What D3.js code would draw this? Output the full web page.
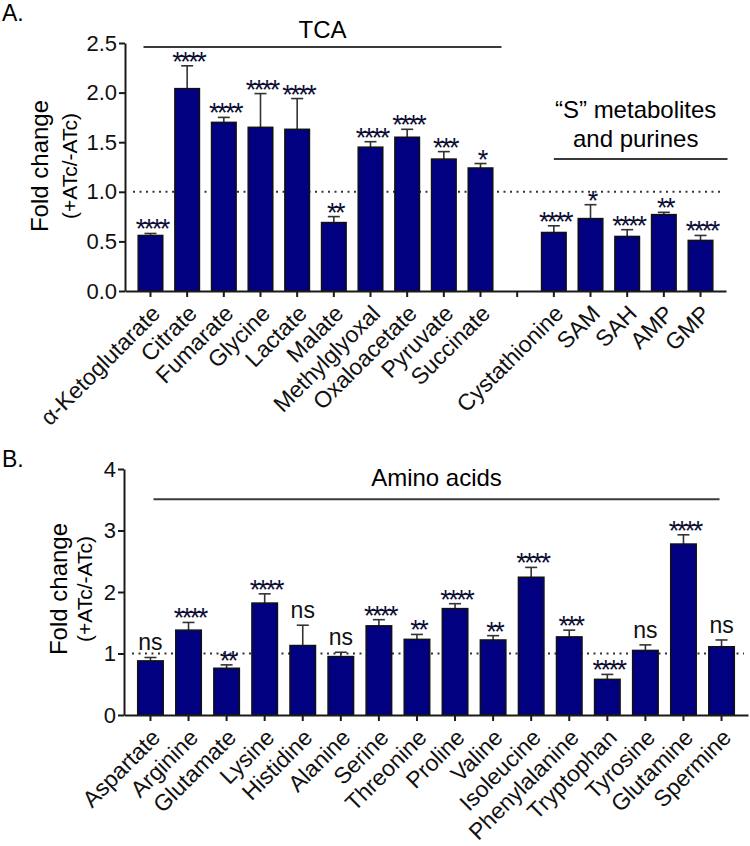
<!DOCTYPE html>
<html>
<head>
<meta charset="utf-8">
<script src="https://cdn.jsdelivr.net/npm/d3@7"></script>
<style>
  body { margin: 0; background: #fff; }
  svg { font-family: "Liberation Sans", Arial, sans-serif; }
  .axis path, .axis line { stroke: #1a1a1a; stroke-width: 2px; }
  .axis text { font-size: 22px; fill: #111; font-family: "Liberation Sans", Arial, sans-serif; }
  .axis.xax text { font-size: 23px; }
  .bar { fill: #000080; stroke: #111; stroke-width: 1.5px; }
  .err { stroke: #333; stroke-width: 1.6px; }
  .stars { font-size: 27px; letter-spacing: -2.5px; fill: #0d0d33; }
  .ns { font-size: 23px; fill: #111; }
</style>
</head>
<body>
<svg id="chart" width="750" height="846"></svg>
<script>
// panel A: TCA + "S" metabolites and purines ("" = empty slot on the axis)
var catsA = ["α-Ketoglutarate", "Citrate", "Fumarate", "Glycine", "Lactate", "Malate",
             "Methylglyoxal", "Oxaloacetate", "Pyruvate", "Succinate", "",
             "Cystathionine", "SAM", "SAH", "AMP", "GMP"];
var foldA = [0.56, 2.04, 1.70, 1.65, 1.63, 0.69, 1.45, 1.55, 1.33, 1.24, null, 0.59, 0.73, 0.55, 0.77, 0.51];
var errA  = [0.02, 0.23, 0.05, 0.34, 0.31, 0.06, 0.055, 0.08, 0.075, 0.045, null, 0.067, 0.14, 0.068, 0.023, 0.05];
var sigA  = ["****", "****", "****", "****", "****", "**", "****", "****", "***", "*", "",
             "****", "*", "****", "**", "****"];
var ticksA = [0, 0.5, 1, 1.5, 2, 2.5];

// panel B: amino acids
var catsB = ["Aspartate", "Arginine", "Glutamate", "Lysine", "Histidine", "Alanine", "Serine",
             "Threonine", "Proline", "Valine", "Isoleucine", "Phenylalanine", "Tryptophan",
             "Tyrosine", "Glutamine", "Spermine"];
var foldB = [0.88, 1.38, 0.76, 1.82, 1.13, 0.95, 1.45, 1.23, 1.73, 1.22, 2.24, 1.27, 0.58, 1.05, 2.78, 1.11];
var errB  = [0.055, 0.125, 0.055, 0.15, 0.33, 0.07, 0.1, 0.08, 0.08, 0.07, 0.16, 0.11, 0.08, 0.09, 0.15, 0.11];
var sigB  = ["ns", "****", "**", "****", "ns", "ns", "****", "**", "****", "**", "****", "***",
             "****", "ns", "****", "ns"];
var ticksB = [0, 1, 2, 3, 4];

var svg = d3.select("#chart");

function renderPanel(p) {
  var x = d3.scaleBand().domain(p.cats).range(p.xRange).paddingInner(0.33).paddingOuter(0.36);
  var y = d3.scaleLinear().domain([0, p.ticks[p.ticks.length - 1]]).range(p.yRange);
  var rows = p.cats.map(function(c, i) {
    return {cat: c, v: p.fold[i], e: p.err[i], sig: p.sig[i]};
  }).filter(function(d) { return d.v != null; });
  var g = svg.append("g");

  // panel letter
  g.append("text").attr("x", 2).attr("y", p.letterY)
    .style("font-size", "23px").text(p.letter);

  // y label
  var yl = g.append("text")
    .attr("transform", "translate(" + p.ylabX + "," + p.ylabY + ") rotate(-90)")
    .attr("text-anchor", "middle");
  yl.append("tspan").attr("x", 0).attr("y", 0).style("font-size", "24px").text("Fold change");
  yl.append("tspan").attr("x", 0).attr("y", p.ylabGap).style("font-size", "21px").text("(+ATc/-ATc)");

  // dotted reference at 1
  g.append("line")
    .attr("x1", p.xRange[0] + 8).attr("x2", p.xRange[1] - 4)
    .attr("y1", y(1)).attr("y2", y(1))
    .attr("stroke", "#333").attr("stroke-width", 2)
    .attr("stroke-dasharray", "2,4.5");

  // error bars (upper only)
  var eb = g.selectAll(".errg").data(rows).enter().append("g");
  eb.append("line").attr("class", "err")
    .attr("x1", function(d) { return x(d.cat) + x.bandwidth() / 2; })
    .attr("x2", function(d) { return x(d.cat) + x.bandwidth() / 2; })
    .attr("y1", function(d) { return y(d.v); })
    .attr("y2", function(d) { return y(d.v + d.e); });
  eb.append("line").attr("class", "err")
    .attr("x1", function(d) { return x(d.cat) + x.bandwidth() / 2 - 6; })
    .attr("x2", function(d) { return x(d.cat) + x.bandwidth() / 2 + 6; })
    .attr("y1", function(d) { return y(d.v + d.e); })
    .attr("y2", function(d) { return y(d.v + d.e); });

  g.selectAll(".bar").data(rows).enter().append("rect")
    .attr("class", "bar")
    .attr("x", function(d) { return x(d.cat); })
    .attr("width", x.bandwidth())
    .attr("y", function(d) { return y(d.v); })
    .attr("height", function(d) { return y(0) - y(d.v); });

  // significance marks
  g.selectAll(".sig").data(rows).enter().append("text")
    .attr("class", function(d) { return d.sig == "ns" ? "ns" : "stars"; })
    .attr("text-anchor", "middle")
    .attr("x", function(d) { return x(d.cat) + x.bandwidth() / 2 + (d.sig == "ns" ? 0 : 1.2); })
    .attr("y", function(d) { return y(d.v + d.e) + (d.sig == "ns" ? -7 : 5); })
    .text(function(d) { return d.sig; });

  // axes
  g.append("g").attr("class", "axis")
    .attr("transform", "translate(" + p.xRange[0] + ",0)")
    .call(d3.axisLeft(y).tickValues(p.ticks).tickFormat(p.fmt).tickSize(6).tickSizeOuter(0).tickPadding(2));

  var xa = g.append("g").attr("class", "axis xax")
    .attr("transform", "translate(0," + y(0) + ")")
    .call(d3.axisBottom(x).tickSize(6).tickSizeOuter(0));
  xa.selectAll("text")
    .attr("text-anchor", "end")
    .attr("dy", "0.35em")
    .attr("transform", "translate(-1,12) rotate(-45)");

  // group brackets
  p.brackets.forEach(function(b) {
    var x1 = x(b.from) + x.bandwidth() / 2 + b.padL,
        x2 = x(b.to) + x.bandwidth() / 2 + b.padR;
    g.append("line").attr("x1", x1).attr("x2", x2)
      .attr("y1", y(b.at)).attr("y2", y(b.at))
      .attr("stroke", "#3a3a3a").attr("stroke-width", 2);
    b.lines.forEach(function(t, i) {
      g.append("text").attr("x", (x1 + x2) / 2 + (b.dx || 0))
        .attr("y", y(b.textAt) + i * 29)
        .attr("text-anchor", "middle")
        .style("font-size", "24px")
        .text(t);
    });
  });
}

renderPanel({
  cats: catsA, fold: foldA, err: errA, sig: sigA, ticks: ticksA,
  fmt: d3.format(".1f"),
  xRange: [125, 726], yRange: [291, 43],
  letter: "A.", letterY: 21,
  ylabX: 48, ylabY: 166, ylabGap: 29,
  brackets: [
    {lines: ["TCA"], from: "α-Ketoglutarate", to: "Succinate", padL: -7, padR: 21, at: 2.46, textAt: 2.55},
    {lines: ["\u201CS\u201D metabolites", "and purines"], from: "Cystathionine", to: "GMP", padL: 0, padR: 27, at: 1.33, textAt: 1.745, dx: -5}
  ]
});

renderPanel({
  cats: catsB, fold: foldB, err: errB, sig: sigB, ticks: ticksB,
  fmt: d3.format("d"),
  xRange: [124, 748], yRange: [715, 469],
  letter: "B.", letterY: 467,
  ylabX: 67, ylabY: 589, ylabGap: 25,
  brackets: [
    {lines: ["Amino acids"], from: "Aspartate", to: "Spermine", padL: 3, padR: -2, at: 3.51, textAt: 3.72}
  ]
});
</script>
</body>
</html>
